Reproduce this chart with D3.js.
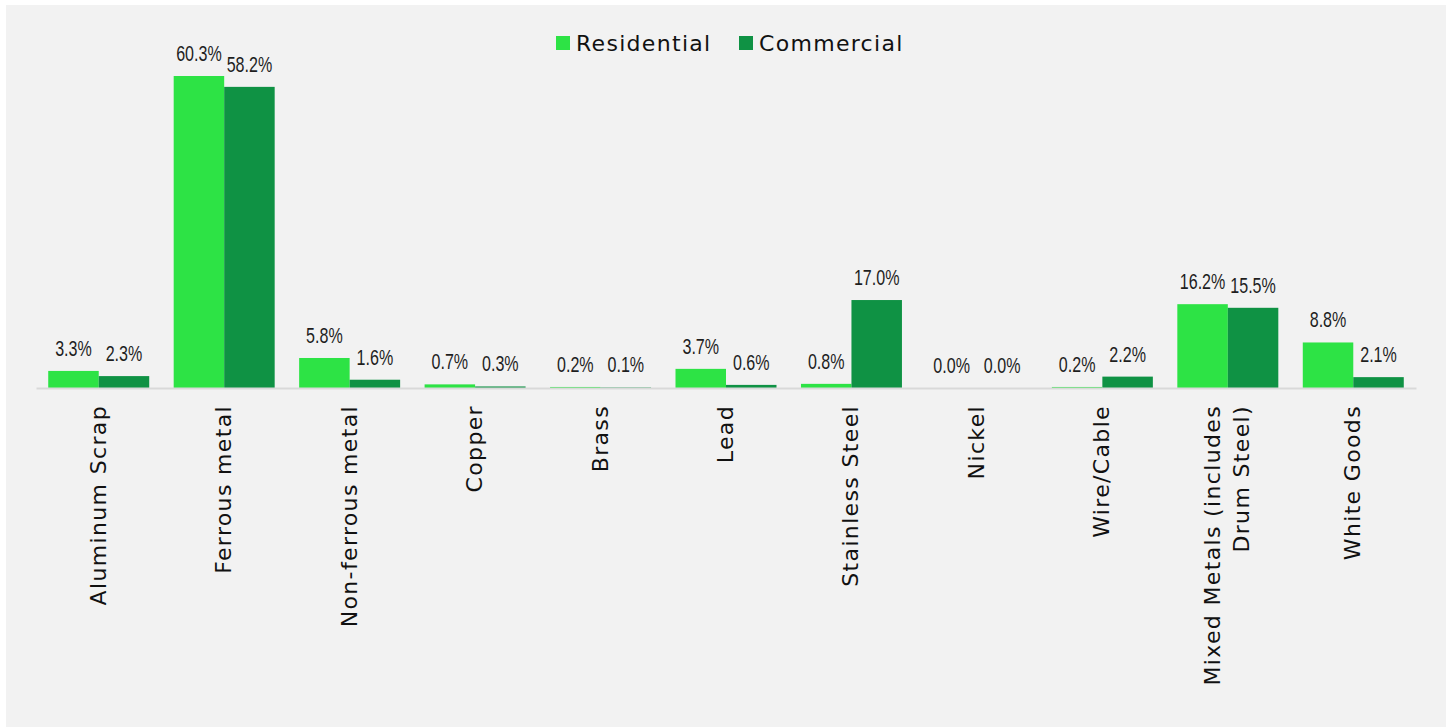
<!DOCTYPE html>
<html>
<head>
<meta charset="utf-8">
<script src="https://cdn.jsdelivr.net/npm/d3@7"></script>
<style>
  html, body { margin: 0; padding: 0; background: #ffffff; }
  svg { display: block; }
  .cat { font-family: "DejaVu Sans", sans-serif; font-size: 22px; fill: #111; letter-spacing: 1.35px; }
  .legend text { font-family: "DejaVu Sans", sans-serif; font-size: 22px; fill: #111; letter-spacing: 1.3px; }
  .val { font-family: "Liberation Sans", Arial, sans-serif; font-size: 22px; fill: #1e1e1e; }
</style>
</head>
<body>
<svg id="chart" width="1449" height="727"></svg>
<script>
// Share of scrap metal by material type
const categories = [
  ["Aluminum Scrap"],
  ["Ferrous metal"],
  ["Non-ferrous metal"],
  ["Copper"],
  ["Brass"],
  ["Lead"],
  ["Stainless Steel"],
  ["Nickel"],
  ["Wire/Cable"],
  ["Mixed Metals (includes", "Drum Steel)"],
  ["White Goods"]
];
const residential = [3.3, 60.3, 5.8, 0.7, 0.2, 3.7, 0.8, 0.0, 0.2, 16.2, 8.8];
const commercial  = [2.3, 58.2, 1.6, 0.3, 0.1, 0.6, 17.0, 0.0, 2.2, 15.5, 2.1];
const seriesNames = ["Residential", "Commercial"];
const seriesColors = ["#2de345", "#0f9244"];

const W = 1449, H = 727;
const svg = d3.select("#chart");

// panel background
svg.append("rect")
  .attr("x", 6).attr("y", 5)
  .attr("width", 1440).attr("height", H - 5)
  .attr("fill", "#f2f2f2");

const keys = categories.map((c, i) => "c" + i);
const x = d3.scaleBand()
  .domain(keys)
  .range([36, 1416])
  .paddingInner(0.195)
  .paddingOuter(0.0975);

const xs = d3.scaleBand()
  .domain(seriesNames)
  .range([0, x.bandwidth()]);

const y = d3.scaleLinear()
  .domain([0, 70])
  .range([388, 388 - 70 * (312 / 60.3)]);

const rows = categories.map((c, i) => ({
  key: keys[i],
  label: c,
  values: [residential[i], commercial[i]]
}));

const groups = svg.append("g").selectAll("g")
  .data(rows)
  .join("g")
  .attr("transform", d => `translate(${x(d.key)},0)`);

groups.selectAll("rect")
  .data(d => d.values.map((v, j) => ({ v, s: seriesNames[j], j })))
  .join("rect")
  .attr("x", d => xs(d.s))
  .attr("width", xs.bandwidth())
  .attr("y", d => y(d.v))
  .attr("height", d => y(0) - y(d.v))
  .attr("fill", d => seriesColors[d.j]);

// value labels in a narrow, condensed face
groups.selectAll("text.val")
  .data(d => d.values.map((v, j) => ({ v, s: seriesNames[j] })))
  .join("text")
  .attr("class", "val")
  .attr("text-anchor", "middle")
  .attr("transform", d =>
    `translate(${xs(d.s) + xs.bandwidth() / 2},${y(d.v) - 15}) scale(0.73,1)`)
  .text(d => d.v.toFixed(1) + "%");

// baseline axis
const xAxis = d3.axisBottom(x).tickSize(0).tickFormat("");
const axisG = svg.append("g")
  .attr("transform", `translate(0,${y(0)})`)
  .call(xAxis);
axisG.select(".domain").attr("stroke", "#d9d9d9").attr("stroke-width", 2);

// rotated category labels
const catG = svg.append("g");
rows.forEach(r => {
  const cx = x(r.key) + x.bandwidth() / 2;
  const n = r.label.length;
  r.label.forEach((line, k) => {
    const off = (k - (n - 1) / 2) * 29;
    catG.append("text")
      .attr("class", "cat")
      .attr("text-anchor", "end")
      .attr("transform", `translate(${cx + off + 7},405) rotate(-90)`)
      .text(line);
  });
});

// legend
const legend = svg.append("g").attr("class", "legend");
const legendX = [556, 739];
seriesNames.forEach((name, i) => {
  legend.append("rect")
    .attr("x", legendX[i]).attr("y", 36)
    .attr("width", 14).attr("height", 14)
    .attr("fill", seriesColors[i]);
  legend.append("text")
    .attr("x", legendX[i] + 20).attr("y", 51)
    .text(name);
});
</script>
</body>
</html>
